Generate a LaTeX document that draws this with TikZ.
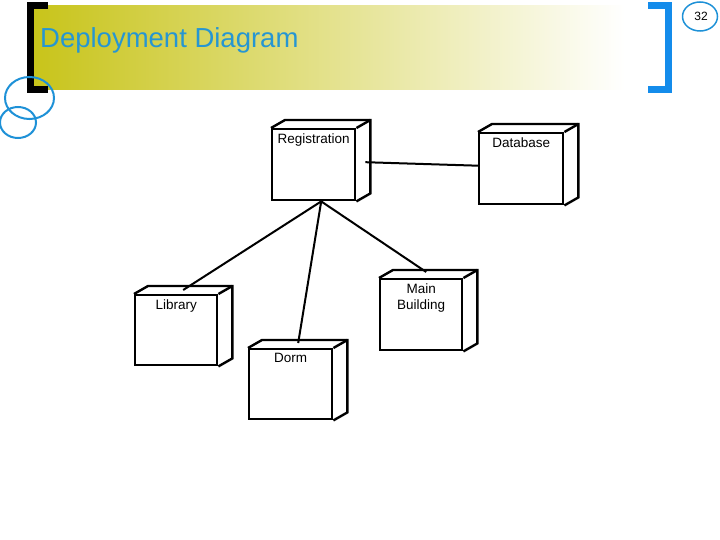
\documentclass[tikz,border=0pt]{standalone}
\usepackage{fontspec}
\setmainfont{Liberation Sans}
\usetikzlibrary{calc}
\definecolor{band}{RGB}{200,196,26}
\definecolor{titleblue}{RGB}{38,150,210}
\definecolor{brblue}{RGB}{20,140,235}
\definecolor{ringblue}{RGB}{30,145,215}
\tikzset{
  boxfront/.style={draw=black, line width=2.4pt, inner sep=0pt, anchor=north west},
  boxline/.style={draw=black, line width=2.4pt, line join=miter},
  boxlabel/.style={anchor=north, inner sep=0pt, align=center, font=\fontsize{13.5}{16}\selectfont},
  conn/.style={draw=black, line width=2pt},
  bracket/.style={line width=7pt, line join=miter, line cap=butt},
  ring/.style={draw=ringblue, line width=2pt}
}
\newcommand{\depbox}[6]{%
  \node[boxfront, minimum width=#4pt, minimum height=#5pt] (#1) at (#2,#3) {};
  \draw[boxline] (#1.north west) -- ++(14,-8) -- ($(#1.north east)+(14,-8)$) -- ($(#1.south east)+(14,-8)$) -- (#1.south east);
  \draw[boxline] ($(#1.north east)+(14,-8)$) -- (#1.north east);
  \node[boxlabel] (#1-lbl) at ($(#1.north)+(0,5.5)$) {#6};
}
\begin{document}
\begin{tikzpicture}[x=1pt,y=-1pt]
\useasboundingbox (0,0) rectangle (720,540);
% title band
\shade[left color=band, right color=white] (33,6) rectangle (625,90);
\node[anchor=base west, inner sep=0pt, text=titleblue, font=\fontsize{27.5}{30}\selectfont] (title) at (40,47.5) {Deployment Diagram};
% brackets
\draw[bracket, black] (48,6) -- (30,6) -- (30,89.5) -- (48,89.5);
\draw[bracket, brblue] (648,6) -- (668.5,6) -- (668.5,89.5) -- (648,89.5);
% rings
\draw[ring] (29.5,98) ellipse [x radius=24.5, y radius=21];
\draw[ring] (18,122.5) ellipse [x radius=18, y radius=15.5];
\draw[draw=ringblue, line width=1.5pt] (700,16.5) ellipse [x radius=17.5, y radius=14.5];
\node[font=\fontsize{12}{14}\selectfont, inner sep=0pt] (pg) at (701,16) {32};
% boxes
\depbox{reg}{271}{128}{83}{71}{Registration}
\depbox{db}{478}{132}{84}{71}{Database}
\depbox{lib}{134}{294}{82}{70}{Library}
\depbox{dorm}{248}{348}{83}{70}{Dorm}
\depbox{main}{379}{278}{82}{71}{Main\\Building}
% connectors
\coordinate (hub) at ($(reg.south)+(7.5,0)$);
\draw[conn] ($(reg.east)+(9,-2.5)$) -- ($(db.west)+(0,-3)$);
\draw[conn] (hub) -- ($(lib.north)+(7,-4)$);
\draw[conn] (hub) -- ($(dorm.north)+(7.5,-5)$);
\draw[conn] (hub) -- ($(main.north)+(5,-6)$);
\end{tikzpicture}
\end{document}
